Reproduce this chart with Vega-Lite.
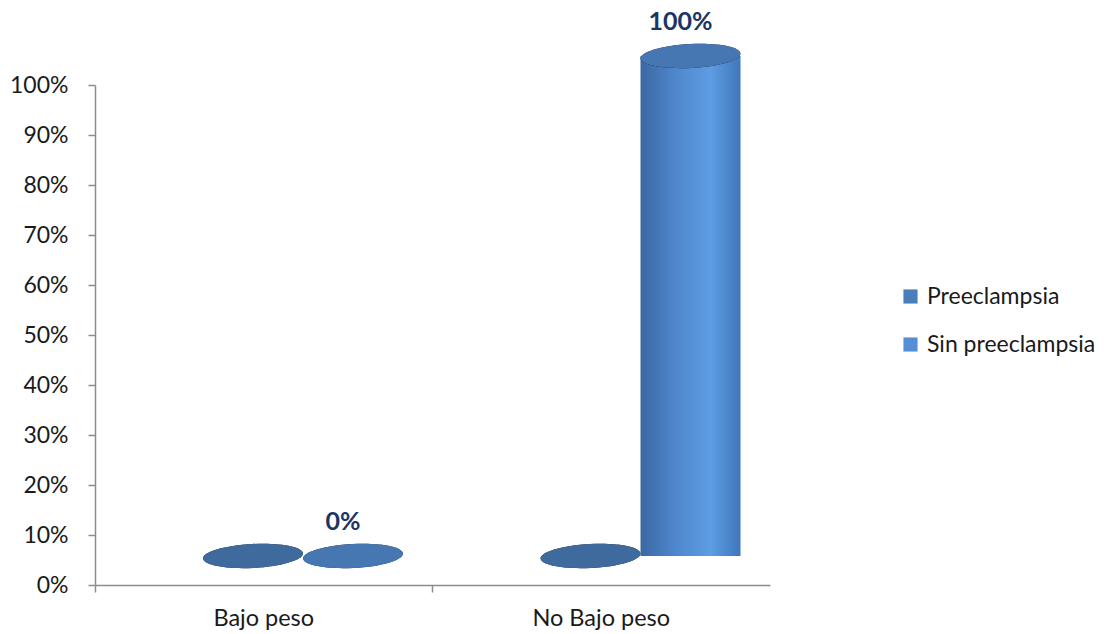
{
  "$schema": "https://vega.github.io/schema/vega-lite/v6.json",
  "autosize": {"type": "none"},
  "width": 675,
  "height": 500,
  "padding": {"left": 95, "top": 85, "right": 347, "bottom": 49},
  "background": "white",
  "config": {"font": "Lato", "view": {"stroke": null}},
  "data": {"values": [
    {"peso": "Bajo peso", "grupo": "Preeclampsia", "valor": 0, "etiqueta": ""},
    {"peso": "Bajo peso", "grupo": "Sin preeclampsia", "valor": 0, "etiqueta": "0%"},
    {"peso": "No Bajo peso", "grupo": "Preeclampsia", "valor": 0, "etiqueta": ""},
    {"peso": "No Bajo peso", "grupo": "Sin preeclampsia", "valor": 1, "etiqueta": "100%"}
  ]},
  "encoding": {
    "x": {"field": "peso", "type": "nominal", "title": null,
      "scale": {"paddingInner": 0, "paddingOuter": 0},
      "axis": {"labelAngle": 0, "labelFont": "Lato", "labelFontSize": 23.5, "labelColor": "#1a1a1a",
        "domainColor": "#8c8c8c", "tickColor": "#8c8c8c", "tickSize": 7, "labelPadding": 14, "bandPosition": 0, "domainWidth": 1.5, "tickWidth": 1.5}},
    "xOffset": {"field": "grupo", "type": "nominal", "scale": {"range": [108, 308], "paddingInner": 0, "paddingOuter": 0}},
    "y": {"field": "valor", "type": "quantitative", "title": null,
      "scale": {"domain": [0, 1]},
      "axis": {"format": ".0%", "values": [0, 0.1, 0.2, 0.3, 0.4, 0.5, 0.6, 0.7, 0.8, 0.9, 1], "grid": false,
        "labelFont": "Lato", "labelFontSize": 23, "labelColor": "#1a1a1a", "labelPadding": 20,
        "domainColor": "#8c8c8c", "tickColor": "#8c8c8c", "tickSize": 7, "domainWidth": 1.5, "tickWidth": 1.5}}
  },
  "layer": [
    {
      "mark": {"type": "bar", "yOffset": -29, "y2Offset": -29,
        "fill": {"gradient": "linear", "x1": 0, "y1": 0, "x2": 1, "y2": 0,
          "stops": [{"offset": 0, "color": "#3a68a3"}, {"offset": 0.35, "color": "#4f86cc"}, {"offset": 0.7, "color": "#5d9de3"}, {"offset": 1, "color": "#3f77bb"}]}},
      "encoding": {"y2": {"datum": 0}}
    },
    {
      "mark": {"type": "point", "filled": true, "size": 10000, "angle": -3, "opacity": 1, "color": "#000000", "yOffset": -29,
        "shape": "M -1 0 A 1 0.24 0 1 0 1 0 A 1 0.24 0 1 0 -1 0 Z"},
      "encoding": {}
    },
    {
      "mark": {"type": "point", "filled": true, "size": 10000, "angle": -3, "opacity": 0.84, "yOffset": -29,
        "shape": "M -1 0 A 1 0.24 0 1 0 1 0 A 1 0.24 0 1 0 -1 0 Z"},
      "encoding": {
        "color": {"field": "grupo", "type": "nominal", "scale": {"range": ["#4a7ebb", "#558ed5"]},
          "legend": {"title": null, "orient": "none", "legendX": 804, "legendY": 200, "symbolType": "square", "symbolSize": 200, "symbolOpacity": 1,
            "labelFont": "Lato", "labelFontSize": 23, "labelColor": "#1a1a1a", "labelLimit": 400, "rowPadding": 24, "labelOffset": 5, "symbolStrokeWidth": 0}}
      }
    },
    {
      "mark": {"type": "text", "font": "Lato", "fontSize": 25, "fontWeight": "bold", "color": "#1b3567", "yOffset": -63, "dx": -10, "baseline": "middle"},
      "encoding": {"text": {"field": "etiqueta"}}
    }
  ]
}
